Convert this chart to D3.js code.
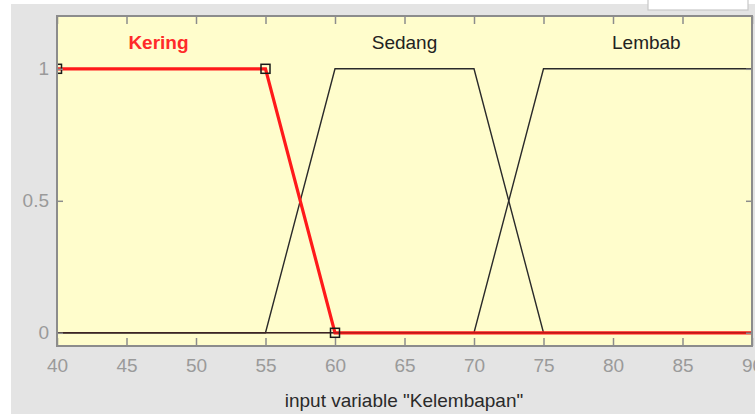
<!DOCTYPE html>
<html><head><meta charset="utf-8">
<script src="https://cdn.jsdelivr.net/npm/d3@7"></script>
<style>
html,body{margin:0;padding:0;background:#fff;}
svg{display:block;font-family:Arial,"Liberation Sans",sans-serif;}
</style></head>
<body>
<svg id="c" width="755" height="414"></svg>
<script>
// Data
const xTicks = [40,45,50,55,60,65,70,75,80,85,90];
const yTicks = [0,0.5,1];
const yTickLabels = ["0","0.5","1"];
const mfNames = ["Kering","Sedang","Lembab"];
const keringX = [40,55,60,90];
const keringY = [1,1,0,0];
const sedangX = [40,55,60,70,75,90];
const sedangY = [0,0,1,1,0,0];
const lembabX = [40,70,75,90];
const lembabY = [0,0,1,1];
const keringMarkersX = [40,55,60];
const keringMarkersY = [1,1,0];
const labelX = [47.3,65,82.4];
const labelY = [1.1,1.1,1.1];
const xLabel = 'input variable "Kelembapan"';

const FS = 19;
const svg = d3.select("#c");
// background
svg.append("rect").attr("x",11).attr("y",4).attr("width",744).attr("height",410).attr("fill","#e4e4e4");
svg.append("rect").attr("x",648).attr("y",-2).attr("width",100).attr("height",12)
  .attr("fill","#ffffff").attr("stroke","#c8c8c8").attr("stroke-width",1.2);

const L=57, R=752, T=16, B=346;
const x = d3.scaleLinear().domain([40,90]).range([L,R]);
const y = d3.scaleLinear().domain([-0.05,1.2]).range([B,T]);

svg.append("rect").attr("x",L).attr("y",T).attr("width",R-L).attr("height",B-T).attr("fill","#fffdcc");

const line = d3.line().x(d=>x(d[0])).y(d=>y(d[1]));
const g = svg.append("g");
g.append("path").attr("d",line(d3.zip(sedangX,sedangY))).attr("fill","none").attr("stroke","#2a2a2a").attr("stroke-width",1.4);
g.append("path").attr("d",line(d3.zip(lembabX,lembabY))).attr("fill","none").attr("stroke","#2a2a2a").attr("stroke-width",1.4);
g.append("path").attr("d",line(d3.zip(keringX,keringY))).attr("fill","none").attr("stroke","#ff1a1a").attr("stroke-width",3.2);
// black zero line over red
g.append("path").attr("d",line([[40,0],[90,0]])).attr("fill","none").attr("stroke","#5a1a1a").attr("stroke-width",1).attr("opacity",0.6);

// markers
svg.append("clipPath").attr("id","pc").append("rect").attr("x",L-1).attr("y",T).attr("width",R-L+2).attr("height",B-T);
svg.append("g").attr("clip-path","url(#pc)").selectAll("rect.m").data(d3.zip(keringMarkersX,keringMarkersY)).join("rect")
  .attr("x",d=>x(d[0])-4.5).attr("y",d=>y(d[1])-4.5).attr("width",9).attr("height",9)
  .attr("fill","none").attr("stroke","#1a1a1a").attr("stroke-width",1.5);

// frame
svg.append("rect").attr("x",L).attr("y",T).attr("width",R-L).attr("height",B-T).attr("fill","none").attr("stroke","#8c8c8c").attr("stroke-width",2);

// axes
const xb = d3.axisBottom(x).tickValues(xTicks).tickSize(-8).tickPadding(13).tickFormat(d3.format("d"));
const xa = svg.append("g").attr("transform",`translate(0,${B})`).call(xb);
const xt = svg.append("g").attr("transform",`translate(0,${T})`).call(d3.axisTop(x).tickValues(xTicks).tickSize(-8).tickFormat(""));
const yl = svg.append("g").attr("transform",`translate(${L},0)`).call(d3.axisLeft(y).tickValues(yTicks).tickSize(-6).tickPadding(8).tickFormat((d,i)=>yTickLabels[i]));
const yr = svg.append("g").attr("transform",`translate(${R},0)`).call(d3.axisRight(y).tickValues(yTicks).tickSize(-6).tickFormat(""));
[xa,xt,yl,yr].forEach(a=>{
  a.select(".domain").remove();
  a.selectAll(".tick line").attr("stroke","#8c8c8c").attr("stroke-width",1.5);
  a.selectAll("text").attr("fill","#9a9a9a").attr("font-size",FS).attr("font-family","Arial,'Liberation Sans',sans-serif");
});
xa.selectAll("text").attr("dy","0.71em");

// MF labels
svg.selectAll("text.mf").data(mfNames).join("text").attr("class","mf")
  .attr("x",(d,i)=>x(labelX[i])).attr("y",(d,i)=>y(labelY[i]))
  .attr("dy","0.35em").attr("text-anchor","middle").attr("font-size",FS)
  .attr("font-weight",(d,i)=>i===0?"bold":"normal")
  .attr("fill",(d,i)=>i===0?"#ff2a2a":"#222").text(d=>d);

svg.append("text").attr("x",404).attr("y",400).attr("dy","0.35em").attr("text-anchor","middle")
  .attr("font-size",FS).attr("fill","#2a2a2a").text(xLabel);
</script>
</body></html>
